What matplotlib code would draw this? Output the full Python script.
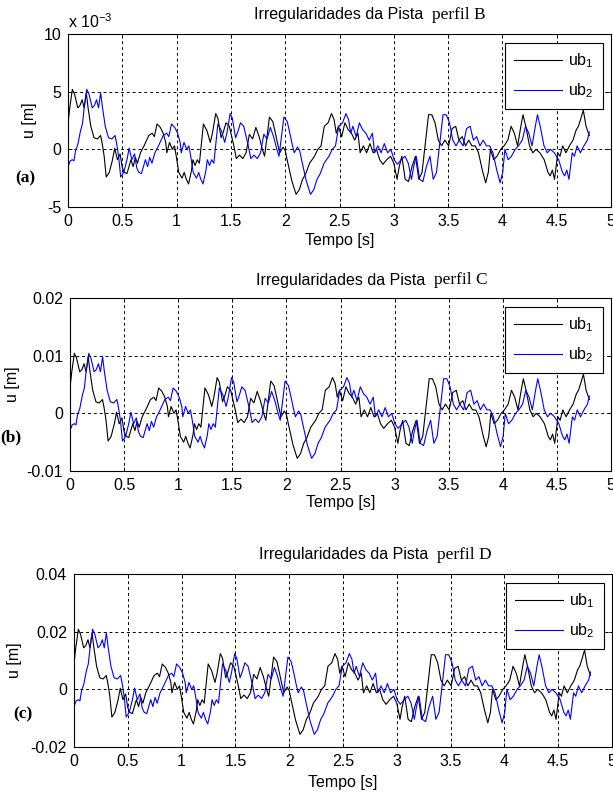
import matplotlib
matplotlib.use('Agg')
import matplotlib.pyplot as plt
import numpy as np

plt.rcParams['axes.unicode_minus'] = False
plt.rcParams['font.family'] = ['Liberation Sans', 'DejaVu Sans']
plt.rcParams['mathtext.fontset'] = 'custom'
plt.rcParams['mathtext.rm'] = 'Liberation Sans'
plt.rcParams['mathtext.it'] = 'Liberation Sans'

# ---------------- data (time in s, displacement in mm = 1e-3 m) ----------------
t_ub1 = [0.000,0.015,0.040,0.060,0.090,0.110,0.130,0.148,0.168,0.185,
         0.210,0.240,0.270,0.300,0.315,0.333,0.352,0.380,0.410,0.430,
         0.455,0.480,0.500,0.520,0.543,0.580,0.600,0.620,0.640,0.667,
         0.700,0.744,0.775,0.795,0.820,0.850,0.876,0.900,0.910,0.935,
         0.960,0.980,0.997,1.020,1.050,1.070,1.090,1.110,1.136,1.150,
         1.170,1.190,1.210,1.247,1.280,1.310,1.330,1.360,1.380,1.410,
         1.430,1.455,1.485,1.500,1.525,1.550,1.580,1.610,1.640,1.670,
         1.700,1.730,1.760,1.790,1.810,1.840,1.855,1.886,1.910,1.930,
         1.950,1.980,2.000,2.020,2.060,2.100,2.130,2.160,2.190,2.225,
         2.270,2.300,2.330,2.360,2.395,2.426,2.450,2.470,2.490,2.520,
         2.550,2.580,2.610,2.640,2.670,2.690,2.720,2.750,2.780,2.810,
         2.840,2.870,2.900,2.935,2.970,3.000,3.030,3.050,3.074,3.105,
         3.135,3.167,3.200,3.230,3.260,3.290,3.320,3.350,3.380,3.410,
         3.440,3.470,3.505,3.537,3.570,3.600,3.630,3.660,3.690,3.720,
         3.750,3.780,3.815,3.846,3.870,3.890,3.920,3.950,3.985,4.015,
         4.050,4.080,4.110,4.140,4.170,4.190,4.215,4.250,4.280,4.310,
         4.345,4.385,4.420,4.440,4.460,4.480,4.510,4.530,4.555,4.585,
         4.617,4.650,4.680,4.700,4.720,4.745,4.770,4.800]

t_ub2 = [0.000,0.020,0.040,0.055,0.070,0.090,0.100,0.115,
         0.133,0.148,0.173,0.193,0.223,0.243,0.263,0.281,0.301,0.318,
         0.343,0.373,0.403,0.433,0.448,0.466,0.485,0.513,0.543,0.563,
         0.588,0.613,0.633,0.653,0.676,0.713,0.733,0.753,0.773,0.800,
         0.833,0.877,0.908,0.928,0.953,0.983,1.009,1.033,1.043,1.068,
         1.093,1.113,1.130,1.153,1.183,1.203,1.223,1.243,1.269,1.283,
         1.303,1.323,1.343,1.380,1.413,1.443,1.463,1.493,1.513,1.543,
         1.563,1.588,1.618,1.633,1.658,1.683,1.713,1.743,1.773,1.803,
         1.833,1.863,1.893,1.923,1.943,1.973,1.988,2.019,2.043,2.063,
         2.083,2.113,2.133,2.153,2.193,2.233,2.263,2.293,2.323,2.358,
         2.403,2.433,2.463,2.493,2.528,2.559,2.583,2.603,2.623,2.653,
         2.683,2.713,2.743,2.773,2.803,2.823,2.853,2.883,2.913,2.943,
         2.973,3.003,3.033,3.068,3.103,3.133,3.163,3.183,3.207,3.238,
         3.268,3.300,3.333,3.363,3.393,3.423,3.453,3.483,3.513,3.543,
         3.573,3.603,3.638,3.670,3.703,3.733,3.763,3.793,3.823,3.853,
         3.883,3.913,3.948,3.979,4.003,4.023,4.053,4.083,4.118,4.148,
         4.183,4.213,4.243,4.273,4.303,4.323,4.348,4.383,4.413,4.443,
         4.478,4.518,4.553,4.573,4.593,4.613,4.643,4.663,4.688,4.718,
         4.750,4.783,4.800]

# perfil B (mm)
ub1_B = [2.2,3.5,5.2,4.8,3.6,3.8,4.3,3.6,4.9,3.6,
         2.0,1.0,0.9,1.2,0.5,-0.6,-2.4,-2.0,-0.9,0.1,
         -0.9,-0.4,-1.6,-2.0,-2.1,-0.9,-1.5,-0.7,-1.2,-0.3,
         0.3,1.2,1.4,1.1,2.2,1.9,1.4,0.6,-0.3,0.6,
         0.0,0.3,-0.6,-2.0,-2.5,-2.0,-2.6,-3.0,-1.9,-0.9,
         -1.4,-0.9,-1.2,2.2,1.6,0.6,1.4,3.1,2.7,1.0,
         1.5,2.3,2.0,1.4,0.4,-0.8,-0.5,-0.8,-0.3,1.3,
         0.9,1.9,1.1,0.0,-0.6,1.7,2.8,2.4,1.4,0.5,
         -0.3,0.2,-0.1,-1.0,-2.7,-3.9,-3.5,-2.6,-2.1,-1.2,
         -0.6,0.0,0.3,2.0,2.3,3.1,2.6,1.4,2.0,1.1,
         2.3,1.7,1.4,0.8,1.4,-0.3,0.3,-0.3,0.5,-0.3,
         0.0,-0.9,-1.3,-0.9,-0.6,-1.2,-2.6,-1.5,-0.6,-2.6,
         -2.8,-1.5,-0.6,-2.6,-2.0,0.5,3.0,3.0,2.3,0.8,
         0.3,0.8,0.3,1.8,2.0,0.8,1.1,0.3,0.8,0.3,
         0.3,-0.3,-1.8,-2.9,-2.0,0.0,-0.9,-0.6,0.0,0.3,
         0.8,2.0,1.4,0.3,2.0,3.0,2.0,0.3,-0.3,0.0,
         -0.3,-0.9,-2.0,-2.3,-1.8,-2.6,-0.3,-0.6,0.3,-0.3,
         0.3,0.8,1.7,2.0,2.6,3.4,2.0,1.2]

ub2_B = [-1.5,-1.0,-0.9,-1.0,-0.1,0.4,0.9,1.6,
         2.2,3.5,5.2,4.8,3.6,3.8,4.3,3.6,4.9,3.6,
         2.0,1.0,0.9,1.2,0.5,-0.6,-2.4,-2.0,-0.9,0.1,
         -0.9,-0.4,-1.6,-2.0,-2.1,-0.9,-1.5,-0.7,-1.2,-0.3,
         0.3,1.2,1.4,1.1,2.2,1.9,1.4,0.6,-0.3,0.6,
         0.0,0.3,-0.6,-2.0,-2.5,-2.0,-2.6,-3.0,-1.9,-0.9,
         -1.4,-0.9,-1.2,2.2,1.6,0.6,1.4,3.1,2.7,1.0,
         1.5,2.3,2.0,1.4,0.4,-0.8,-0.5,-0.8,-0.3,1.3,
         0.9,1.9,1.1,0.0,-0.6,1.7,2.8,2.4,1.4,0.5,
         -0.3,0.2,-0.1,-1.0,-2.7,-3.9,-3.5,-2.6,-2.1,-1.2,
         -0.6,0.0,0.3,2.0,2.3,3.1,2.6,1.4,2.0,1.1,
         2.3,1.7,1.4,0.8,1.4,-0.3,0.3,-0.3,0.5,-0.3,
         0.0,-0.9,-1.3,-0.9,-0.6,-1.2,-2.6,-1.5,-0.6,-2.6,
         -2.8,-1.5,-0.6,-2.6,-2.0,0.5,3.0,3.0,2.3,0.8,
         0.3,0.8,0.3,1.8,2.0,0.8,1.1,0.3,0.8,0.3,
         0.3,-0.3,-1.8,-2.9,-2.0,0.0,-0.9,-0.6,0.0,0.3,
         0.8,2.0,1.4,0.3,2.0,3.0,2.0,0.3,-0.3,0.0,
         -0.3,-0.9,-2.0,-2.3,-1.8,-2.6,-0.3,-0.6,0.3,-0.3,
         0.3,0.8,1.5]

# perfil C (mm)
ub1_C = [4.4,7.0,10.4,9.6,7.2,7.6,8.6,7.2,9.8,7.2,
         4.0,2.0,1.8,2.4,1.0,-1.2,-4.8,-4.0,-1.8,0.2,
         -1.8,-0.8,-3.2,-4.0,-4.2,-1.8,-3.0,-1.4,-2.4,-0.6,
         0.6,2.4,2.8,2.2,4.4,3.8,2.8,1.2,-0.6,1.2,
         0.0,0.6,-1.2,-4.0,-5.0,-4.0,-5.2,-6.0,-3.8,-1.8,
         -2.8,-1.8,-2.4,4.4,3.2,1.2,2.8,6.2,5.4,2.0,
         3.0,4.6,4.0,2.8,0.8,-1.6,-1.0,-1.6,-0.6,2.6,
         1.8,3.8,2.2,0.0,-1.2,3.4,5.6,4.8,2.8,1.0,
         -0.6,0.4,-0.2,-2.0,-5.4,-7.8,-7.0,-5.2,-4.2,-2.4,
         -1.2,0.0,0.6,4.0,4.6,6.2,5.2,2.8,4.0,2.2,
         4.6,3.4,2.8,1.6,2.8,-0.6,0.6,-0.6,1.0,-0.6,
         0.0,-1.8,-2.6,-1.8,-1.2,-2.4,-5.2,-3.0,-1.2,-5.2,
         -5.6,-3.0,-1.2,-5.2,-4.0,1.0,6.0,6.0,4.6,1.6,
         0.6,1.6,0.6,3.6,4.0,1.6,2.2,0.6,1.6,0.6,
         0.6,-0.6,-3.6,-5.8,-4.0,0.0,-1.8,-1.2,0.0,0.6,
         1.6,4.0,2.8,0.6,4.0,6.0,4.0,0.6,-0.6,0.0,
         -0.6,-1.8,-4.0,-4.6,-3.6,-5.2,-0.6,-1.2,0.6,-0.6,
         0.6,1.6,3.4,4.0,5.2,6.8,4.0,2.4]

ub2_C = [-3.0,-2.0,-1.8,-2.0,-0.2,0.8,1.8,3.2,
         4.4,7.0,10.4,9.6,7.2,7.6,8.6,7.2,9.8,7.2,
         4.0,2.0,1.8,2.4,1.0,-1.2,-4.8,-4.0,-1.8,0.2,
         -1.8,-0.8,-3.2,-4.0,-4.2,-1.8,-3.0,-1.4,-2.4,-0.6,
         0.6,2.4,2.8,2.2,4.4,3.8,2.8,1.2,-0.6,1.2,
         0.0,0.6,-1.2,-4.0,-5.0,-4.0,-5.2,-6.0,-3.8,-1.8,
         -2.8,-1.8,-2.4,4.4,3.2,1.2,2.8,6.2,5.4,2.0,
         3.0,4.6,4.0,2.8,0.8,-1.6,-1.0,-1.6,-0.6,2.6,
         1.8,3.8,2.2,0.0,-1.2,3.4,5.6,4.8,2.8,1.0,
         -0.6,0.4,-0.2,-2.0,-5.4,-7.8,-7.0,-5.2,-4.2,-2.4,
         -1.2,0.0,0.6,4.0,4.6,6.2,5.2,2.8,4.0,2.2,
         4.6,3.4,2.8,1.6,2.8,-0.6,0.6,-0.6,1.0,-0.6,
         0.0,-1.8,-2.6,-1.8,-1.2,-2.4,-5.2,-3.0,-1.2,-5.2,
         -5.6,-3.0,-1.2,-5.2,-4.0,1.0,6.0,6.0,4.6,1.6,
         0.6,1.6,0.6,3.6,4.0,1.6,2.2,0.6,1.6,0.6,
         0.6,-0.6,-3.6,-5.8,-4.0,0.0,-1.8,-1.2,0.0,0.6,
         1.6,4.0,2.8,0.6,4.0,6.0,4.0,0.6,-0.6,0.0,
         -0.6,-1.8,-4.0,-4.6,-3.6,-5.2,-0.6,-1.2,0.6,-0.6,
         0.6,1.6,3.0]

# perfil D (mm)
ub1_D = [8.8,14.0,20.8,19.2,14.4,15.2,17.2,14.4,19.6,14.4,
         8.0,4.0,3.6,4.8,2.0,-2.4,-9.6,-8.0,-3.6,0.4,
         -3.6,-1.6,-6.4,-8.0,-8.4,-3.6,-6.0,-2.8,-4.8,-1.2,
         1.2,4.8,5.6,4.4,8.8,7.6,5.6,2.4,-1.2,2.4,
         0.0,1.2,-2.4,-8.0,-10.0,-8.0,-10.4,-12.0,-7.6,-3.6,
         -5.6,-3.6,-4.8,8.8,6.4,2.4,5.6,12.4,10.8,4.0,
         6.0,9.2,8.0,5.6,1.6,-3.2,-2.0,-3.2,-1.2,5.2,
         3.6,7.6,4.4,0.0,-2.4,6.8,11.2,9.6,5.6,2.0,
         -1.2,0.8,-0.4,-4.0,-10.8,-15.6,-14.0,-10.4,-8.4,-4.8,
         -2.4,0.0,1.2,8.0,9.2,12.4,10.4,5.6,8.0,4.4,
         9.2,6.8,5.6,3.2,5.6,-1.2,1.2,-1.2,2.0,-1.2,
         0.0,-3.6,-5.2,-3.6,-2.4,-4.8,-10.4,-6.0,-2.4,-10.4,
         -11.2,-6.0,-2.4,-10.4,-8.0,2.0,12.0,12.0,9.2,3.2,
         1.2,3.2,1.2,7.2,8.0,3.2,4.4,1.2,3.2,1.2,
         1.2,-1.2,-7.2,-11.6,-8.0,0.0,-3.6,-2.4,0.0,1.2,
         3.2,8.0,5.6,1.2,8.0,12.0,8.0,1.2,-1.2,0.0,
         -1.2,-3.6,-8.0,-9.2,-7.2,-10.4,-1.2,-2.4,1.2,-1.2,
         1.2,3.2,6.8,8.0,10.4,13.6,8.0,4.8]

ub2_D = [-6.0,-4.0,-3.6,-4.0,-0.4,1.6,3.6,6.4,
         8.8,14.0,20.8,19.2,14.4,15.2,17.2,14.4,19.6,14.4,
         8.0,4.0,3.6,4.8,2.0,-2.4,-9.6,-8.0,-3.6,0.4,
         -3.6,-1.6,-6.4,-8.0,-8.4,-3.6,-6.0,-2.8,-4.8,-1.2,
         1.2,4.8,5.6,4.4,8.8,7.6,5.6,2.4,-1.2,2.4,
         0.0,1.2,-2.4,-8.0,-10.0,-8.0,-10.4,-12.0,-7.6,-3.6,
         -5.6,-3.6,-4.8,8.8,6.4,2.4,5.6,12.4,10.8,4.0,
         6.0,9.2,8.0,5.6,1.6,-3.2,-2.0,-3.2,-1.2,5.2,
         3.6,7.6,4.4,0.0,-2.4,6.8,11.2,9.6,5.6,2.0,
         -1.2,0.8,-0.4,-4.0,-10.8,-15.6,-14.0,-10.4,-8.4,-4.8,
         -2.4,0.0,1.2,8.0,9.2,12.4,10.4,5.6,8.0,4.4,
         9.2,6.8,5.6,3.2,5.6,-1.2,1.2,-1.2,2.0,-1.2,
         0.0,-3.6,-5.2,-3.6,-2.4,-4.8,-10.4,-6.0,-2.4,-10.4,
         -11.2,-6.0,-2.4,-10.4,-8.0,2.0,12.0,12.0,9.2,3.2,
         1.2,3.2,1.2,7.2,8.0,3.2,4.4,1.2,3.2,1.2,
         1.2,-1.2,-7.2,-11.6,-8.0,0.0,-3.6,-2.4,0.0,1.2,
         3.2,8.0,5.6,1.2,8.0,12.0,8.0,1.2,-1.2,0.0,
         -1.2,-3.6,-8.0,-9.2,-7.2,-10.4,-1.2,-2.4,1.2,-1.2,
         1.2,3.2,6.0]

x_ticks = [0, 0.5, 1, 1.5, 2, 2.5, 3, 3.5, 4, 4.5, 5]
x_ticklabels = ['0', '0.5', '1', '1.5', '2', '2.5', '3', '3.5', '4', '4.5', '5']
yt_B = [-5, 0, 5, 10];          ytl_B = ['-5', '0', '5', '10']
yt_C = [-0.01, 0, 0.01, 0.02];  ytl_C = ['-0.01', '0', '0.01', '0.02']
yt_D = [-0.02, 0, 0.02, 0.04];  ytl_D = ['-0.02', '0', '0.02', '0.04']
profiles = ['B', 'C', 'D']
panel_tags = ['(a)', '(b)', '(c)']
series_labels = ['ub$_1$', 'ub$_2$']

# ---------------- layout ----------------
W, H = 613, 794
fig = plt.figure(figsize=(W / 100, H / 100), dpi=100)

def rect(l, t, r, b):
    return [l / W, 1 - b / H, (r - l) / W, (b - t) / H]

panels = [
    dict(box=(68, 34, 611, 207), ub1=ub1_B, ub2=ub2_B, conv=1.0, yt=yt_B, ytl=ytl_B,
         ylim=(-5, 10), title_y=15, title_x=423, tag_xy=(25, 178),
         ylab_x=37, xlab_y=241, offset=True),
    dict(box=(70, 298, 611, 471), ub1=ub1_C, ub2=ub2_C, conv=1e-3, yt=yt_C, ytl=ytl_C,
         ylim=(-0.01, 0.02), title_y=280, title_x=425, tag_xy=(11, 437),
         ylab_x=20, xlab_y=503, offset=False),
    dict(box=(74, 574, 612, 747), ub1=ub1_D, ub2=ub2_D, conv=1e-3, yt=yt_D, ytl=ytl_D,
         ylim=(-0.02, 0.04), title_y=555, title_x=428, tag_xy=(23, 714),
         ylab_x=22, xlab_y=783, offset=False),
]

FS = 11.5
for i, p in enumerate(panels):
    l, t, r, b = p['box']
    ax = fig.add_axes(rect(l, t, r, b))
    ax.plot(t_ub1, np.array(p['ub1']) * p['conv'], color='black', lw=0.8,
            label=series_labels[0])
    ax.plot(t_ub2, np.array(p['ub2']) * p['conv'], color='#0000ff', lw=0.8,
            label=series_labels[1])
    ax.set_xlim(0, 5)
    ax.set_ylim(*p['ylim'])
    ax.set_xticks(x_ticks)
    ax.set_xticklabels(x_ticklabels, fontsize=FS)
    ax.set_yticks(p['yt'])
    ax.set_yticklabels(p['ytl'], fontsize=FS)
    ax.tick_params(direction='in', length=3, width=0.6, top=True, right=True,
                   pad=5, colors='black')
    ax.grid(True, color='black', linestyle=(0, (3, 3)), linewidth=0.7)
    for s in ax.spines.values():
        s.set_linewidth(0.8)
        s.set_color('black')
    ax.set_xlabel('Tempo [s]', fontsize=FS, va='center')
    ax.xaxis.set_label_coords(0.5, (b - p['xlab_y']) / (b - t))
    ax.set_ylabel('u [m]', fontsize=FS)
    ax.yaxis.set_label_coords((p['ylab_x'] - l) / (r - l), 0.5)
    leg = ax.legend(loc='upper right', bbox_to_anchor=(1 - 8 / (r - l), 1 - 9 / (b - t)),
                    borderaxespad=0, fontsize=FS, frameon=True, fancybox=False,
                    edgecolor='black', framealpha=1, handlelength=3.0,
                    handletextpad=0.4, borderpad=0.55, labelspacing=0.7)
    leg.get_frame().set_linewidth(0.8)
    if p['offset']:
        ax.text(0, 1.02, 'x 10$^{-3}$', transform=ax.transAxes, fontsize=FS,
                ha='left', va='bottom')
    # title in two fonts
    fig.text(p['title_x'] / W, 1 - p['title_y'] / H, 'Irregularidades da Pista',
             fontsize=11.5, ha='right', va='center', family=['Liberation Sans'])
    fig.text((p['title_x'] + 9) / W, 1 - p['title_y'] / H, 'perfil ' + profiles[i],
             fontsize=12.5, ha='left', va='center', family=['Liberation Serif'])
    fig.text(p['tag_xy'][0] / W, 1 - p['tag_xy'][1] / H, panel_tags[i],
             fontsize=12.5, ha='center', va='center', family=['Liberation Serif'],
             fontweight='bold')

fig.savefig('out.png', dpi=100)
